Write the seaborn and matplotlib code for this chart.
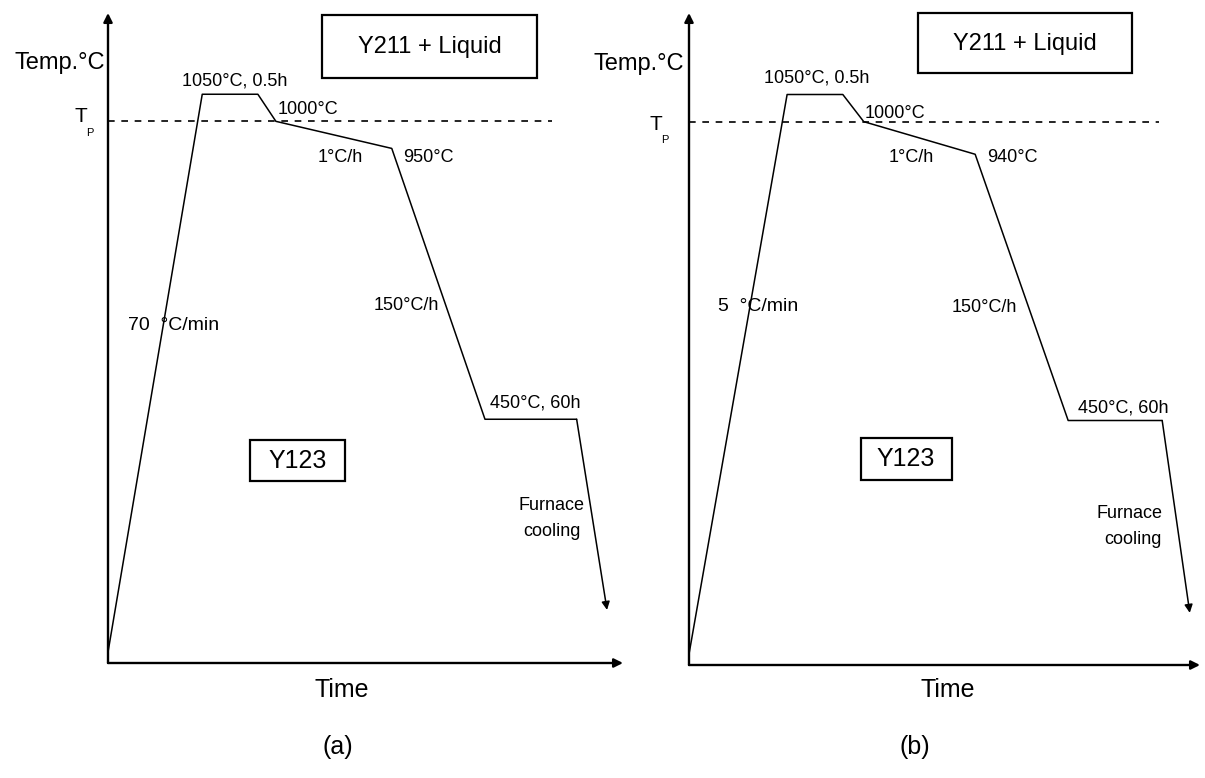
import matplotlib
matplotlib.use("Agg")
import matplotlib.pyplot as plt
import seaborn as sns
import pandas as pd
from matplotlib.patches import Rectangle

# ---------------- data (schematic heat-treatment profiles) ----------------
time_a = [0, 18.3, 29.1, 32.6, 55.1, 73.2, 91.0, 96.9]
temp_a = [20, 1050, 1050, 1000, 950, 450, 450, 98]
time_b = [0, 19.2, 30.1, 34.2, 56.0, 74.2, 92.6, 98.0]
temp_b = [20, 1050, 1050, 1000, 940, 450, 450, 96]
tp_temp = 1000
tp_end = [86.2, 92.0]
panel_tags = ["(a)", "(b)"]
ramp_labels = ["70  °C/min", "5  °C/min"]
hold_labels = ["1050°C, 0.5h", "1050°C, 0.5h"]
tp_labels = ["1000°C", "1000°C"]
slow_labels = ["1°C/h", "1°C/h"]
knee_labels = ["950°C", "940°C"]
fast_labels = ["150°C/h", "150°C/h"]
anneal_labels = ["450°C, 60h", "450°C, 60h"]
region_labels = ["Y211 + Liquid", "Y123"]
axis_labels = ["Temp.°C", "Time"]
cool_label = ["Furnace", "cooling"]

# ---------------- figure ----------------
sns.set_theme(style="white")
plt.rcParams["font.family"] = ["Liberation Sans", "DejaVu Sans"]
W, H = 1205, 778
fig = plt.figure(figsize=(W / 100, H / 100), dpi=100)
fig.patch.set_facecolor("white")


def P(x, y):
    return (x / W, 1 - y / H)


def ftext(x, y, s, size=13, ha="center", va="center"):
    fig.text(*P(x, y), s, fontsize=size, ha=ha, va=va, color="black")


def fbox(x0, y0, x1, y1):
    fx0, fy1 = P(x0, y0)
    fx1, fy0 = P(x1, y1)
    fig.add_artist(Rectangle((fx0, fy0), fx1 - fx0, fy1 - fy0,
                             transform=fig.transFigure, fill=False,
                             lw=1.6, ec="black"))


axes_px = [(108, 13, 623, 663), (689, 13, 1200, 665)]
data = [(time_a, temp_a), (time_b, temp_b)]

for i, (ax_px, (tt, TT)) in enumerate(zip(axes_px, data)):
    x0, y0, x1, y1 = ax_px
    l, t = P(x0, y0)
    r, b = P(x1, y1)
    ax = fig.add_axes([l, b, r - l, t - b])
    ax.set_xlim(0, 100)
    ax.set_ylim(0, 1200)
    ax.set_facecolor("none")
    for sp in ax.spines.values():
        sp.set_visible(False)
    ax.set_xticks([])
    ax.set_yticks([])

    # axes with arrow heads
    ax.annotate("", xy=(0, 1), xytext=(0, 0), xycoords="axes fraction",
                arrowprops=dict(arrowstyle="-|>", lw=1.7, color="black",
                                mutation_scale=13, shrinkA=0, shrinkB=0))
    ax.annotate("", xy=(1, 0), xytext=(0, 0), xycoords="axes fraction",
                arrowprops=dict(arrowstyle="-|>", lw=1.7, color="black",
                                mutation_scale=13, shrinkA=0, shrinkB=0))

    # profile
    df = pd.DataFrame({"time": tt[:-1], "temp": TT[:-1]})
    sns.lineplot(data=df, x="time", y="temp", sort=False, estimator=None,
                 color="black", lw=1.1, ax=ax)
    ax.annotate("", xy=(tt[-1], TT[-1]), xytext=(tt[-2], TT[-2]),
                xycoords="data",
                arrowprops=dict(arrowstyle="-|>", lw=1.1, color="black",
                                mutation_scale=12, shrinkA=0, shrinkB=0))

    # peritectic temperature line
    ax.plot([0, tp_end[i]], [tp_temp, tp_temp], ls=(0, (4, 4)), lw=1.2,
            color="black")
    ax.set_xlabel("")
    ax.set_ylabel("")

# ---------------- texts panel (a) ----------------
ftext(105, 63, axis_labels[0], 17, ha="right")
ftext(81, 117, "T", 15)
ftext(90, 133, "P", 8)
fbox(322, 15, 537, 78)
ftext(430, 47, region_labels[0], 17)
ftext(235, 81, hold_labels[0])
ftext(278, 110, tp_labels[0], ha="left")
ftext(340, 157, slow_labels[0])
ftext(403, 157, knee_labels[0], ha="left")
ftext(174, 325, ramp_labels[0], 14)
ftext(406, 305, fast_labels[0])
ftext(535, 403, anneal_labels[0])
ftext(552, 505, cool_label[0])
ftext(552, 531, cool_label[1])
fbox(250, 440, 345, 481)
ftext(298, 461, region_labels[1], 18)
ftext(342, 690, axis_labels[1], 18)
ftext(338, 747, panel_tags[0], 18)

# ---------------- texts panel (b) ----------------
ftext(684, 64, axis_labels[0], 17, ha="right")
ftext(656, 124, "T", 15)
ftext(665, 140, "P", 8)
fbox(918, 13, 1132, 73)
ftext(1025, 44, region_labels[0], 17)
ftext(817, 78, hold_labels[1])
ftext(865, 113, tp_labels[1], ha="left")
ftext(911, 158, slow_labels[1])
ftext(987, 158, knee_labels[1], ha="left")
ftext(758, 307, ramp_labels[1], 14)
ftext(984, 308, fast_labels[1])
ftext(1123, 408, anneal_labels[1])
ftext(1130, 513, cool_label[0])
ftext(1133, 539, cool_label[1])
fbox(861, 438, 952, 480)
ftext(906, 459, region_labels[1], 18)
ftext(948, 690, axis_labels[1], 18)
ftext(915, 747, panel_tags[1], 18)

fig.savefig("out.png", dpi=100, facecolor="white")
